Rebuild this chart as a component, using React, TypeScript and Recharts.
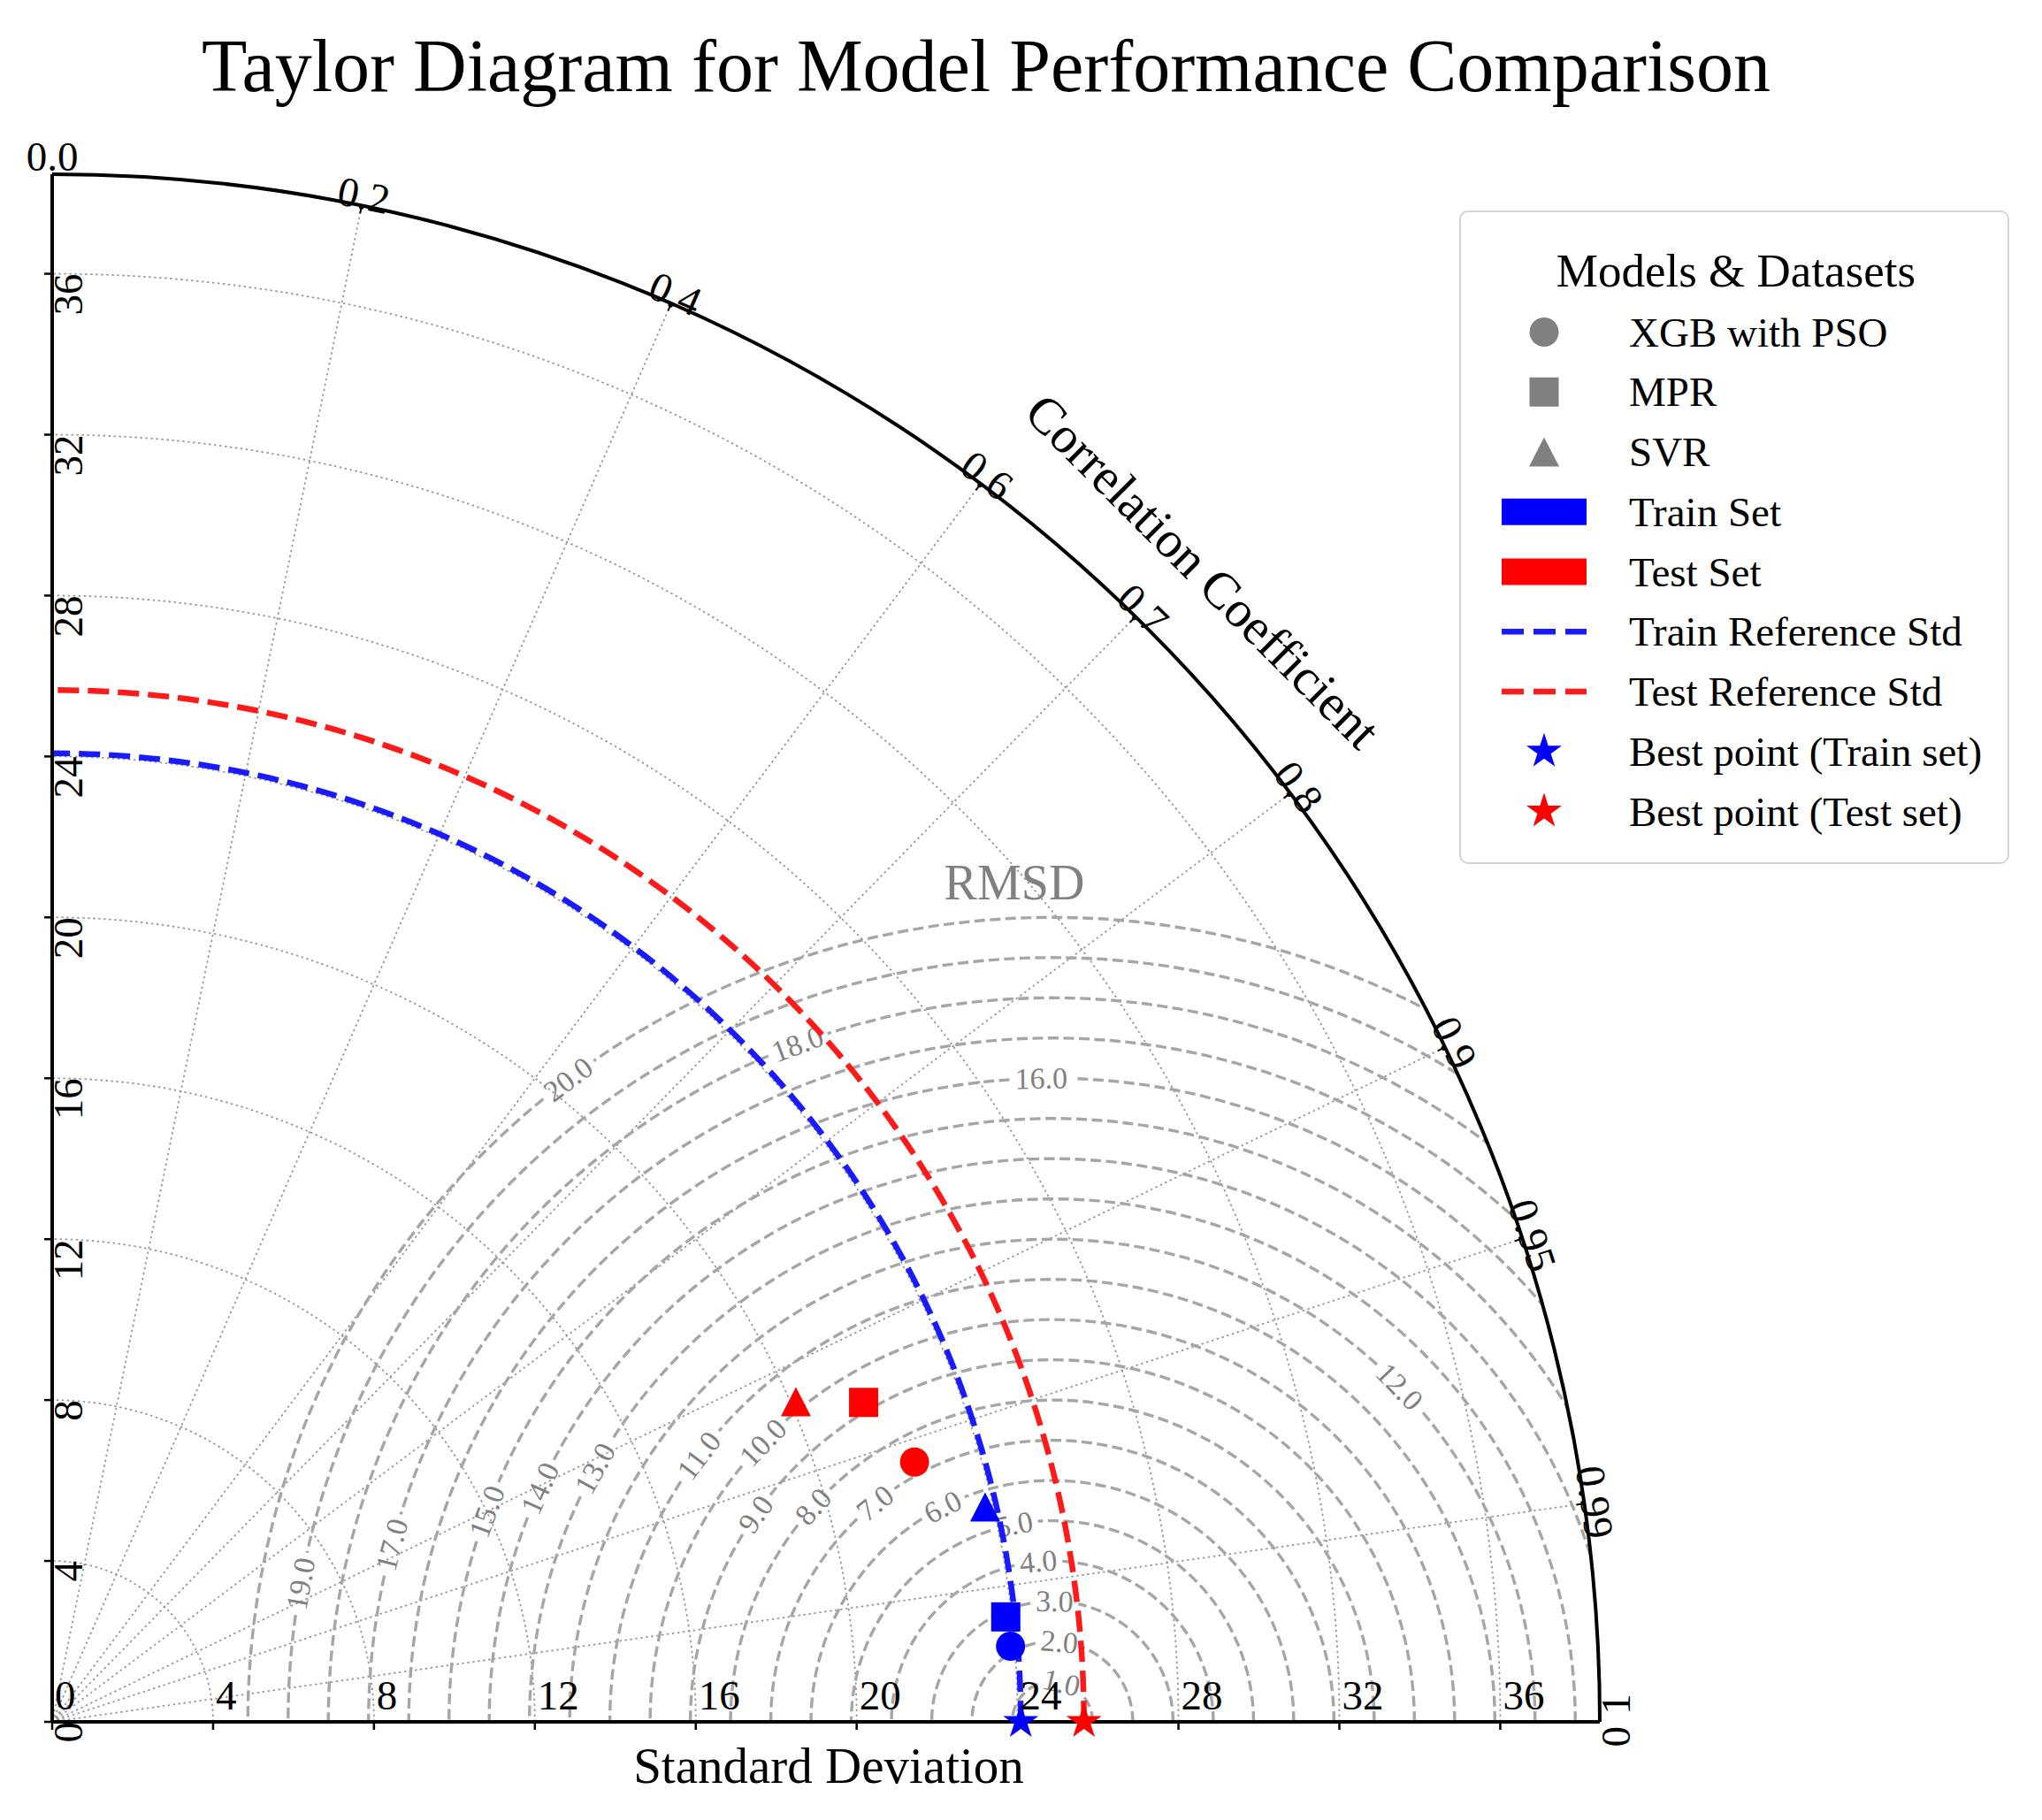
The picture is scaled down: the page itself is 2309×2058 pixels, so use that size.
import React from "react";
import { ScatterChart, Scatter, XAxis, YAxis } from "recharts";
import * as RechartsAll from "recharts";

// model values as (std, correlation)
const models = ["XGB with PSO", "MPR", "SVR"];
const modelShapes = ["circle", "square", "triangle"];
const trainStd = [23.9, 23.85, 23.8];
const trainCorr = [0.9969, 0.994, 0.9745];
const testStd = [22.39, 21.68, 20.13];
const testCorr = [0.9575, 0.9305, 0.9185];
const trainRefStd = 24.08;
const testRefStd = 25.65;
const stdMax = 38.475;

const stdTicks = [0, 4, 8, 12, 16, 20, 24, 28, 32, 36];
const corrTicks = [0.2, 0.4, 0.6, 0.7, 0.8, 0.9, 0.95, 0.99];
const corrTickLabels = ["0.2", "0.4", "0.6", "0.7", "0.8", "0.9", "0.95", "0.99"];
const rmsdLevels = [1, 2, 3, 4, 5, 6, 7, 8, 9, 10, 11, 12, 13, 14, 15, 16, 17, 18, 19, 20];
const rmsdLabelAngles = [77, 85, 89, 95, 101, 117, 129, 138, 145, 136, 143, 44, 151, 155.5, 159.6, 91, 165, 110.6, 169.6, 127];

const legendLabels = [
  "XGB with PSO",
  "MPR",
  "SVR",
  "Train Set",
  "Test Set",
  "Train Reference Std",
  "Test Reference Std",
  "Best point (Train set)",
  "Best point (Test set)",
];

const W = 2309;
const H = 2058;
const PLOT_LEFT = 59;
const PLOT_TOP = 197;
const PLOT_SIZE = 1750;
const Y_AXIS_W = 50;
const X_AXIS_H = 50;
const TICK = 9;
const TICK_FS = 47;
const FONT = "'Liberation Serif', 'Times New Roman', serif";
const BLUE = "#0000ff";
const RED = "#ff0000";
const GRID = "#9a9a9a";

const usePlotAreaSafe: () => any = (RechartsAll as any).usePlotArea ?? (() => undefined);

const toXY = (std: number, corr: number) => ({ x: std * corr, y: std * Math.sqrt(1 - corr * corr) });

const trainPoints = models.map((m, i) => ({ model: m, kind: modelShapes[i], ...toXY(trainStd[i], trainCorr[i]) }));
const testPoints = models.map((m, i) => ({ model: m, kind: modelShapes[i], ...toXY(testStd[i], testCorr[i]) }));
const trainBest = [{ x: trainRefStd, y: 0, kind: "star" }];
const testBest = [{ x: testRefStd, y: 0, kind: "star" }];

function starPoints(cx: number, cy: number, R: number) {
  const pts: string[] = [];
  for (let i = 0; i < 10; i++) {
    const a = ((-90 + i * 36) * Math.PI) / 180;
    const r = i % 2 ? R * 0.382 : R;
    pts.push(`${cx + r * Math.cos(a)},${cy + r * Math.sin(a)}`);
  }
  return pts.join(" ");
}

function Marker({ cx, cy, kind, color, size = 33 }: any) {
  const h = size / 2;
  if (kind === "circle") return <circle cx={cx} cy={cy} r={h} fill={color} />;
  if (kind === "square") return <rect x={cx - h} y={cy - h} width={size} height={size} fill={color} />;
  if (kind === "triangle")
    return <polygon points={`${cx},${cy - h} ${cx - h - 0.5},${cy + h} ${cx + h + 0.5},${cy + h}`} fill={color} />;
  return <polygon points={starPoints(cx, cy, 21)} fill={color} />;
}

function useGeom() {
  const area = usePlotAreaSafe();
  const x0 = area?.x ?? PLOT_LEFT;
  const y0 = area?.y ?? PLOT_TOP;
  const w = area?.width ?? PLOT_SIZE;
  const h = area?.height ?? PLOT_SIZE;
  const ox = x0;
  const oy = y0 + h;
  const unit = w / stdMax;
  const R = w;
  return { ox, oy, unit, R, h };
}

const pt = (cx: number, cy: number, r: number, deg: number) => {
  const a = (deg * Math.PI) / 180;
  return [cx + r * Math.cos(a), cy - r * Math.sin(a)];
};

function arcPath(cx: number, cy: number, r: number, a1: number, a2: number) {
  const [x1, y1] = pt(cx, cy, r, a1);
  const [x2, y2] = pt(cx, cy, r, a2);
  const large = a2 - a1 > 180 ? 1 : 0;
  return `M${x1},${y1} A${r},${r} 0 ${large} 0 ${x2},${y2}`;
}

function Background() {
  const { ox, oy, unit, R } = useGeom();
  const rc = ((trainRefStd + testRefStd) / 2) * unit;
  const fs = 34;
  return (
    <g>
      <defs>
        <clipPath id="quarter">
          <path d={`M${ox},${oy} L${ox + R},${oy} A${R},${R} 0 0 0 ${ox},${oy - R} Z`} />
        </clipPath>
      </defs>
      {stdTicks.slice(1).map((s) => (
        <path key={`s${s}`} d={arcPath(ox, oy, s * unit, 0, 90)} fill="none" stroke={GRID} strokeWidth={1.8} strokeDasharray="2.5 3.5" />
      ))}
      {corrTicks.map((c) => {
        const deg = (Math.acos(c) * 180) / Math.PI;
        const [x, y] = pt(ox, oy, R, deg);
        return <line key={`c${c}`} x1={ox} y1={oy} x2={x} y2={y} stroke={GRID} strokeWidth={1.8} strokeDasharray="2.5 3.5" />;
      })}
      <g clipPath="url(#quarter)">
        {rmsdLevels.map((lv, i) => {
          const r = lv * unit;
          const label = lv.toFixed(1);
          const tw = (label.length - 1) * 0.5 * fs + 0.25 * fs;
          const d = ((tw / 2 + 6) / r) * (180 / Math.PI);
          const th = rmsdLabelAngles[i];
          return (
            <g key={`r${lv}`}>
              <path d={arcPath(ox + rc, oy, r, 0, Math.max(0, th - d))} fill="none" stroke="#a6a6a6" strokeWidth={3.4} strokeDasharray="12 5.5" />
              <path d={arcPath(ox + rc, oy, r, Math.min(180, th + d), 180)} fill="none" stroke="#a6a6a6" strokeWidth={3.4} strokeDasharray="12 5.5" />
            </g>
          );
        })}
      </g>
      {rmsdLevels.map((lv, i) => {
        const th = rmsdLabelAngles[i];
        const [x, y] = pt(ox + rc, oy, lv * unit, th);
        return (
          <text key={`rl${lv}`} x={x} y={y} fontSize={fs} fill="#808080" fontFamily={FONT} textAnchor="middle" dominantBaseline="central" transform={`rotate(${90 - th} ${x} ${y})`}>
            {lv.toFixed(1)}
          </text>
        );
      })}
      <text x={ox + rc - 43} y={oy - 20 * unit - 20} fontSize={56} fill="#808080" fontFamily={FONT} textAnchor="middle">
        RMSD
      </text>
      <path d={arcPath(ox, oy, testRefStd * unit, 0, 90)} fill="none" stroke="#ff1a1a" strokeWidth={6.5} strokeDasharray="24 10" />
      <path d={arcPath(ox, oy, trainRefStd * unit, 0, 90)} fill="none" stroke="#1a1aff" strokeWidth={6.5} strokeDasharray="24 10" />
    </g>
  );
}

function Foreground() {
  const { ox, oy, R } = useGeom();
  const lx = 1651;
  const ly = 239;
  const rowY = (i: number) => 375.5 + i * 67.75;
  const mx = 1746;
  const icons = [
    (y: number) => <Marker cx={mx} cy={y} kind="circle" color="#808080" />,
    (y: number) => <Marker cx={mx} cy={y} kind="square" color="#808080" />,
    (y: number) => <Marker cx={mx} cy={y} kind="triangle" color="#808080" />,
    (y: number) => <rect x={1698} y={y - 15} width={96} height={30} fill={BLUE} />,
    (y: number) => <rect x={1698} y={y - 15} width={96} height={30} fill={RED} />,
    (y: number) => <line x1={1698} x2={1794} y1={y} y2={y} stroke="#1a1aff" strokeWidth={6.5} strokeDasharray="25 11" />,
    (y: number) => <line x1={1698} x2={1794} y1={y} y2={y} stroke="#ff1a1a" strokeWidth={6.5} strokeDasharray="25 11" />,
    (y: number) => <Marker cx={mx} cy={y} kind="star" color={BLUE} />,
    (y: number) => <Marker cx={mx} cy={y} kind="star" color={RED} />,
  ];
  return (
    <g fontFamily={FONT}>
      <path d={arcPath(ox, oy, R, 0, 90)} fill="none" stroke="#000" strokeWidth={4} />
      {corrTicks.map((c, i) => {
        const deg = (Math.acos(c) * 180) / Math.PI;
        const [x1, y1] = pt(ox, oy, R - 9, deg);
        const [x2, y2] = pt(ox, oy, R, deg);
        const [tx, ty] = pt(ox, oy, R + 12, deg);
        return (
          <g key={`cl${c}`}>
            <line x1={x1} y1={y1} x2={x2} y2={y2} stroke="#000" strokeWidth={2} />
            <text x={tx} y={ty} fontSize={TICK_FS} textAnchor="middle" dominantBaseline="central" transform={`rotate(${90 - deg} ${tx} ${ty})`}>
              {corrTickLabels[i]}
            </text>
          </g>
        );
      })}
      <text x={ox} y={oy - R - 4} fontSize={TICK_FS} textAnchor="middle">0.0</text>
      <text x={ox + R + 34} y={oy - 20} fontSize={TICK_FS} textAnchor="middle" transform={`rotate(-90 ${ox + R + 34} ${oy - 20})`}>1</text>
      <text x={ox + R + 34} y={oy + 5} fontSize={TICK_FS} textAnchor="end" transform={`rotate(-90 ${ox + R + 34} ${oy + 5})`}>0</text>
      {(() => {
        const [tx, ty] = pt(ox, oy, 1840, 45);
        return (
          <text x={tx} y={ty} fontSize={58} textAnchor="middle" dominantBaseline="central" transform={`rotate(45 ${tx} ${ty})`}>
            Correlation Coefficient
          </text>
        );
      })()}
      <text x={ox + R / 2 + 3} y={oy + 69} fontSize={57} textAnchor="middle">Standard Deviation</text>
      <text x={1115} y={103} fontSize={84} textAnchor="middle">Taylor Diagram for Model Performance Comparison</text>

      <rect x={lx} y={ly} width={620} height={737} rx={9} fill="#fff" stroke="#d4d4d4" strokeWidth={2} />
      <text x={1963} y={324} fontSize={53} textAnchor="middle">Models &amp; Datasets</text>
      {legendLabels.map((lab, i) => (
        <g key={lab}>
          {icons[i](rowY(i))}
          <text x={1842} y={rowY(i) + 16} fontSize={47}>{lab}</text>
        </g>
      ))}
    </g>
  );
}

const xTick = (p: any) => (
  <text x={p.x + 3} y={p.y - TICK - 14} fontSize={TICK_FS} fontFamily={FONT} fill="#000" textAnchor="start">
    {p.payload.value}
  </text>
);

const yTick = (p: any) => {
  const bx = p.x + TICK + 34;
  return (
    <text x={bx} y={p.y} fontSize={TICK_FS} fontFamily={FONT} fill="#000" textAnchor="end" transform={`rotate(-90 ${bx} ${p.y})`}>
      {p.payload.value}
    </text>
  );
};

export default function App() {
  return (
    <div style={{ position: "absolute", left: 0, top: 0, width: W, height: H, background: "#fff" }}>
      <ScatterChart
        width={W}
        height={H}
        margin={{ top: PLOT_TOP, left: PLOT_LEFT - Y_AXIS_W, right: W - PLOT_LEFT - PLOT_SIZE, bottom: H - PLOT_TOP - PLOT_SIZE - X_AXIS_H }}
      >
        <XAxis
          type="number"
          dataKey="x"
          domain={[0, stdMax]}
          ticks={stdTicks}
          height={X_AXIS_H}
          tickSize={TICK}
          tickMargin={0}
          axisLine={{ stroke: "#000", strokeWidth: 4 }}
          tickLine={{ stroke: "#000", strokeWidth: 2.5 }}
          tick={xTick}
          interval={0}
        />
        <YAxis
          type="number"
          dataKey="y"
          domain={[0, stdMax]}
          ticks={stdTicks}
          width={Y_AXIS_W}
          tickSize={TICK}
          tickMargin={0}
          axisLine={{ stroke: "#000", strokeWidth: 4 }}
          tickLine={{ stroke: "#000", strokeWidth: 2.5 }}
          tick={yTick}
          interval={0}
        />
        <Background />
        <Scatter data={testPoints} isAnimationActive={false} shape={(p: any) => <Marker cx={p.cx} cy={p.cy} kind={p.payload.kind} color={RED} />} />
        <Scatter data={trainPoints} isAnimationActive={false} shape={(p: any) => <Marker cx={p.cx} cy={p.cy} kind={p.payload.kind} color={BLUE} />} />
        <Scatter data={trainBest} isAnimationActive={false} shape={(p: any) => <Marker cx={p.cx} cy={p.cy} kind="star" color={BLUE} />} />
        <Scatter data={testBest} isAnimationActive={false} shape={(p: any) => <Marker cx={p.cx} cy={p.cy} kind="star" color={RED} />} />
        <Foreground />
      </ScatterChart>
    </div>
  );
}
